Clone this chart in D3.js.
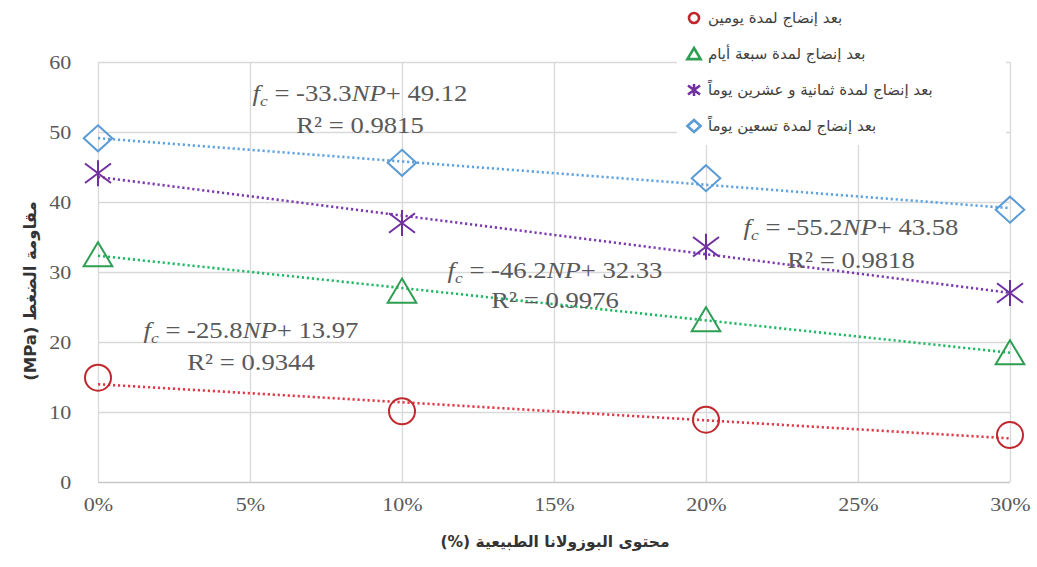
<!DOCTYPE html>
<html>
<head>
<meta charset="utf-8">
<script src="https://cdn.jsdelivr.net/npm/d3@7"></script>
<style>
  body { margin: 0; background: #fff; }
  svg { display: block; }
</style>
</head>
<body>
<div id="chart"></div>
<script>
// pozzolana content (%)
const contents = [0, 10, 20, 30];
// compressive strength (MPa) per curing age
const day2 = [14.9, 10.1, 8.9, 6.7];
const day7 = [32.4, 27.2, 23.1, 18.4];
const day28 = [44.1, 37.0, 33.6, 27.0];
const day90 = [49.1, 45.6, 43.4, 38.9];
// linear trendlines fc = a*NP + b (NP as fraction)
const slopes = [-25.8, -46.2, -55.2, -33.3];
const intercepts = [13.97, 32.33, 43.58, 49.12];
const r2s = ["0.9344", "0.9976", "0.9818", "0.9815"];
const seriesNames = [
  "بعد إنضاج لمدة يومين",
  "بعد إنضاج لمدة سبعة أيام",
  "بعد إنضاج لمدة ثمانية و عشرين يوماً",
  "بعد إنضاج لمدة تسعين يوماً"
];
const xTicks = [0, 5, 10, 15, 20, 25, 30];
const yTicks = [0, 10, 20, 30, 40, 50, 60];
const xTitle = "محتوى البوزولانا الطبيعية (%)";
const yTitle = "مقاومة الضغط (MPa)";

const width = 1037, height = 567;
const margin = {top: 62, right: 27, bottom: 85, left: 98};
const colors = ["#c0282e", "#2e9e52", "#7030a0", "#5b9bd5"];
const lineColors = ["#e03a48", "#22b866", "#7b3bb0", "#5fa3e0"];
const serif = "'Liberation Serif', 'Times New Roman', serif";
const sx = 1.16; // source picture is stretched horizontally

const svg = d3.select("#chart").append("svg")
  .attr("width", width)
  .attr("height", height);

const x = d3.scaleLinear().domain([0, 30]).range([margin.left, width - margin.right]);
const y = d3.scaleLinear().domain([0, 60]).range([height - margin.bottom, margin.top]);

// grid
const grid = svg.append("g");
grid.append("g")
  .attr("transform", `translate(0,${y(0)})`)
  .call(d3.axisBottom(x).tickValues(xTicks).tickSize(-(y(0) - y(60))).tickFormat(""))
  .call(g => g.select(".domain").remove())
  .call(g => g.selectAll("line").attr("stroke", "#d9d9d9").attr("stroke-width", 1.3));
grid.append("g")
  .attr("transform", `translate(${x(0)},0)`)
  .call(d3.axisLeft(y).tickValues(yTicks).tickSize(-(x(30) - x(0))).tickFormat(""))
  .call(g => g.select(".domain").remove())
  .call(g => g.selectAll("line").attr("stroke", "#d9d9d9").attr("stroke-width", 1.3))
  .call(g => g.selectAll(".tick").filter(d => d === 0).select("line").attr("stroke", "#c8c8c8"));

// tick labels
svg.append("g")
  .attr("transform", `translate(${x(0)},0)`)
  .call(d3.axisLeft(y).tickValues(yTicks).tickSize(0).tickPadding(23))
  .call(g => g.select(".domain").remove())
  .call(g => g.selectAll("text")
    .style("font-family", serif)
    .style("font-size", "19px")
    .attr("fill", "#595959")
    .attr("transform", `scale(${sx},1)`));

svg.append("g")
  .attr("transform", `translate(0,${y(0)})`)
  .call(d3.axisBottom(x).tickValues(xTicks).tickSize(0).tickPadding(16).tickFormat(d => d + "%"))
  .call(g => g.select(".domain").remove())
  .call(g => g.selectAll("text")
    .style("font-family", serif)
    .style("font-size", "19px")
    .attr("fill", "#595959")
    .attr("transform", `scale(${sx},1)`));

// axis titles (right-to-left)
svg.append("text")
  .attr("x", 555).attr("y", 547)
  .attr("direction", "rtl")
  .attr("text-anchor", "middle")
  .style("font-family", "'DejaVu Sans', sans-serif")
  .attr("font-weight", "bold")
  .attr("font-size", 15.5)
  .attr("fill", "#333")
  .text(xTitle);

svg.append("text")
  .attr("transform", "translate(30,291) rotate(-90)")
  .attr("direction", "rtl")
  .attr("text-anchor", "middle")
  .attr("dy", "0.35em")
  .style("font-family", "'DejaVu Sans', sans-serif")
  .attr("font-weight", "bold")
  .attr("font-size", 16.5)
  .attr("fill", "#333")
  .text(yTitle);

// legend (white box covers grid)
const legend = svg.append("g");
legend.append("rect")
  .attr("x", 677).attr("y", 0)
  .attr("width", 329).attr("height", 145)
  .attr("fill", "#fff");

// marker shapes
function markerPath(i, s) {
  if (i === 1) {
    return `M0,${-s} L${s * 1.1},${s * 0.85} L${-s * 1.1},${s * 0.85} Z`;
  }
  if (i === 2) {
    return `M0,${-s} L0,${s} M${-s},${-s * 0.75} L${s},${s * 0.75} M${-s},${s * 0.75} L${s},${-s * 0.75}`;
  }
  if (i === 3) {
    return `M0,${-s} L${s * 1.1},0 L0,${s} L${-s * 1.1},0 Z`;
  }
  return d3.arc()({innerRadius: 0, outerRadius: s, startAngle: 0, endAngle: 2 * Math.PI});
}

const legendRows = legend.selectAll("g.row").data(seriesNames).join("g")
  .attr("class", "row")
  .attr("transform", (d, i) => `translate(694,${18 + i * 36})`);
legendRows.append("path")
  .attr("d", (d, i) => markerPath(i, i === 0 ? 5 : 6))
  .attr("fill", "none")
  .attr("stroke", (d, i) => colors[i])
  .attr("stroke-width", 2.6);
legendRows.append("text")
  .attr("x", 14)
  .attr("dy", "0.35em")
  .style("font-family", "'DejaVu Sans', sans-serif")
  .attr("font-size", 15)
  .attr("fill", "#404040")
  .text(d => d);

// trendlines
const series = [day2, day7, day28, day90];
svg.append("g").selectAll("line").data(slopes).join("line")
  .attr("x1", x(0)).attr("x2", x(30))
  .attr("y1", (a, i) => y(intercepts[i]))
  .attr("y2", (a, i) => y(a * 0.3 + intercepts[i]))
  .attr("stroke", (a, i) => lineColors[i])
  .attr("stroke-width", 2.6)
  .attr("stroke-dasharray", "2.2,2.8");

// markers
series.forEach((vals, i) => {
  svg.append("g").selectAll("path").data(vals).join("path")
    .attr("transform", (v, j) => `translate(${x(contents[j])},${y(v)})`)
    .attr("d", markerPath(i, 13))
    .attr("fill", "none")
    .attr("stroke", colors[i])
    .attr("stroke-width", 2);
});

// trendline equations
const eqPos = [
  {x: 251, y: 330, ry: 362},
  {x: 555, y: 270, ry: 300},
  {x: 851, y: 227, ry: 260},
  {x: 360, y: 93, ry: 125}
];
slopes.forEach((a, i) => {
  const p = eqPos[i];
  const g1 = svg.append("g").attr("transform", `translate(${p.x},${p.y}) scale(${sx},1)`);
  const t = g1.append("text")
    .attr("text-anchor", "middle")
    .attr("dy", "0.35em")
    .style("font-family", serif)
    .attr("font-size", 23)
    .attr("fill", "#595959");
  t.append("tspan").attr("font-style", "italic").text("f");
  t.append("tspan").attr("font-style", "italic").attr("font-size", 15).attr("dy", "0.3em").text("c");
  t.append("tspan").attr("dy", "-0.2em").text(" = " + a.toFixed(1));
  t.append("tspan").attr("font-style", "italic").text("NP");
  t.append("tspan").text("+ " + intercepts[i].toFixed(2));

  svg.append("g").attr("transform", `translate(${p.x},${p.ry}) scale(${sx},1)`)
    .append("text")
    .attr("text-anchor", "middle")
    .attr("dy", "0.35em")
    .style("font-family", serif)
    .attr("font-size", 23)
    .attr("fill", "#595959")
    .text("R² = " + r2s[i]);
});
</script>
</body>
</html>
